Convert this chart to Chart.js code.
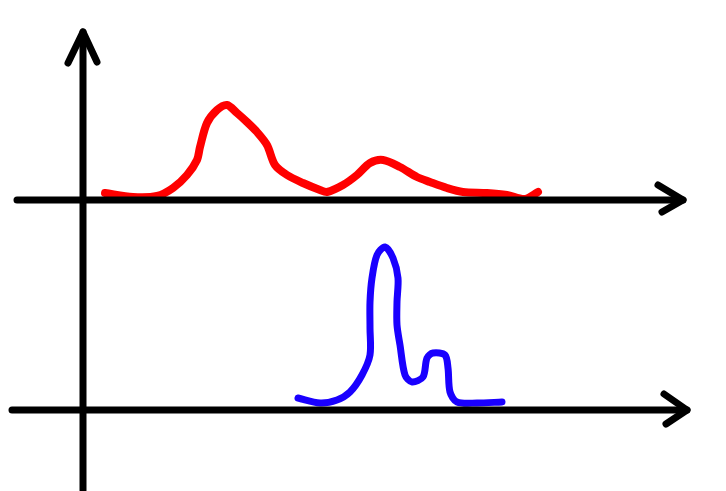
<!DOCTYPE html>
<html>
<head>
<meta charset="utf-8">
<script src="https://cdn.jsdelivr.net/npm/chart.js@4"></script>
<style>
  html, body { margin: 0; padding: 0; background: #fff; }
  canvas { display: block; }
</style>
</head>
<body>
<canvas id="sketch" width="726" height="491"></canvas>
<script>
// upper curve (red), y measured up from the upper axis
const redX = [22, 50, 74, 90, 104, 114, 117, 124, 134, 144, 154, 164, 174, 184, 192, 204, 220, 237, 244, 260, 274, 287, 300, 317, 334, 347, 364, 380, 404, 424, 442, 455];
const redY = [7, 3, 4, 12, 25, 40, 53, 77, 90, 95, 87, 78, 68, 55, 35, 25, 17, 10, 8, 15, 25, 37, 40, 33, 23, 18, 12, 8, 7, 5, 1, 8];

// lower curve (blue), y measured up from the lower axis
const blueX = [215, 237, 254, 267, 279, 287, 287, 287, 289, 294, 302, 310, 315, 314, 314, 317, 322, 329, 340, 344, 350, 362, 365, 367, 374, 394, 419];
const blueY = [12, 7, 10, 18, 35, 55, 82, 108, 132, 155, 163, 152, 132, 108, 85, 65, 35, 28, 33, 52, 57, 55, 42, 18, 8, 7, 8];

// axes with arrow heads
const vAxisX = [0, 0];
const vAxisY = [-290, 168];
const vHeadX = [-15, 0, 14];
const vHeadY = [137, 168, 138];
const topAxisX = [-66, 600];
const topAxisY = [0, 0];
const topHeadX = [575, 600, 579];
const topHeadY = [15, 0, -12];
const lowAxisX = [-71, 604];
const lowAxisY = [0, 0];
const lowHeadX = [581, 604, 583];
const lowHeadY = [16, 0, -14];

function pts(xs, ys) {
  return xs.map((x, i) => ({ x: x, y: ys[i] }));
}

function stroke(xs, ys, color, width, yAxis, tension) {
  return {
    data: pts(xs, ys),
    borderColor: color,
    borderWidth: width,
    showLine: true,
    pointRadius: 0,
    tension: tension || 0,
    borderCapStyle: "round",
    borderJoinStyle: "round",
    yAxisID: yAxis,
    clip: false,
  };
}

const datasets = [
  stroke(vAxisX, vAxisY, "#000", 7, "yTop"),
  stroke(vHeadX, vHeadY, "#000", 7, "yTop"),
  stroke(topAxisX, topAxisY, "#000", 7, "yTop"),
  stroke(topHeadX, topHeadY, "#000", 7, "yTop"),
  stroke(lowAxisX, lowAxisY, "#000", 7, "yLow"),
  stroke(lowHeadX, lowHeadY, "#000", 7, "yLow"),
  stroke(redX, redY, "#ff0000", 8, "yTop", 0.3),
  stroke(blueX, blueY, "#1a00ff", 7, "yLow", 0.3),
];

new Chart(document.getElementById("sketch"), {
  type: "scatter",
  data: { datasets: datasets },
  options: {
    responsive: false,
    animation: false,
    layout: { padding: 0 },
    plugins: { legend: { display: false }, tooltip: { enabled: false } },
    scales: {
      x: { type: "linear", min: -83, max: 643, display: false },
      yTop: { type: "linear", min: -291, max: 200, display: false },
      yLow: { type: "linear", min: -81, max: 410, display: false },
    },
  },
});
</script>
</body>
</html>
